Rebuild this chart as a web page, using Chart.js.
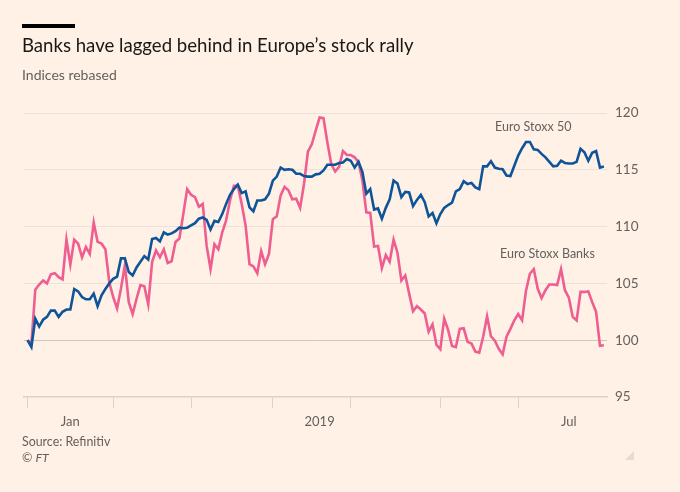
<!DOCTYPE html>
<html><head><meta charset="utf-8">
<script src="https://cdn.jsdelivr.net/npm/chart.js@4/dist/chart.umd.js"></script>
<style>
html,body{margin:0;padding:0;background:#fff1e5;}
#w{position:relative;width:680px;height:492px;overflow:hidden;background:#fff1e5;font-family:Lato,sans-serif;}
canvas{position:absolute;left:0;top:0;}
.t{position:absolute;white-space:nowrap;color:#66605c;}
#bar{position:absolute;left:22px;top:24px;width:53px;height:4px;background:#000;}
#tri{position:absolute;left:625px;top:451px;width:0;height:0;border-left:9px solid transparent;border-bottom:9px solid #e6dcd2;}
</style></head><body>
<div id="w">
<canvas id="c" width="680" height="492"></canvas>
<div id="bar"></div>
<div class="t" style="left:22px;top:34px;font-size:18.6px;color:#1a1714;">Banks have lagged behind in Europe’s stock rally</div>
<div class="t" style="left:22px;top:66px;font-size:14px;">Indices rebased</div>
<div class="t" style="left:495px;top:119px;font-size:12.5px;">Euro Stoxx 50</div>
<div class="t" style="left:500px;top:246px;font-size:12.5px;">Euro Stoxx Banks</div>
<div class="t" style="left:22px;top:434px;font-size:12.4px;">Source: Refinitiv</div>
<div class="t" style="left:22px;top:450px;font-size:12.4px;">© <i>FT</i></div>
<div id="tri"></div>
</div>
<script>
const stoxx50=[100,99.4,101.9,101.2,101.8,102.05,102.6,102.6,102.05,102.5,102.7,102.7,104.5,104.3,103.8,103.6,103.6,104.1,103,103.95,104.5,105,105.4,105.6,107.2,107.2,106,105.7,106.4,106.9,107.4,107.1,108.9,109,108.7,109.5,109.3,109.4,109.6,109.9,109.85,109.9,110.1,110.3,110.7,110.8,110.6,109.75,110.5,110.4,111.1,112,112.8,113.3,113.7,112.95,113.1,111.7,111.35,112.3,112.3,112.4,112.9,114.05,114.4,115.2,115,115.05,115,114.65,114.65,114.45,114.4,114.4,114.6,114.65,114.95,115.45,115.45,115.45,115.6,115.65,115.95,115.8,115.2,115.7,114.8,112.9,113.3,111.5,111.6,110.7,111.65,112.4,114.05,113.8,112.6,113.05,113,111.8,112.35,112.8,112.15,110.9,111.2,110.3,111.1,111.65,111.9,112.1,113.1,113.3,114,113.75,113.85,113.45,113.3,115.3,115.3,115.75,115.2,115.1,115.05,114.5,114.45,115.35,116.25,116.9,117.45,117.45,116.8,116.75,116.4,116.1,115.7,115.3,115.35,115.8,115.6,115.55,115.55,115.7,116.85,116.55,115.8,116.5,116.65,115.2,115.3];
const banks=[100,99.7,104.45,104.9,105.25,105,105.8,105.9,105.55,105.35,108.85,106.65,108.85,108.5,107.3,108.2,107.6,110.35,108.65,108.5,108,105.1,103.8,102.8,104.55,106.6,103.35,102.3,103.65,104.85,104.75,103.15,106.9,107.9,107.3,108,106.8,106.95,108.65,108.95,111.1,113.3,112.8,112.6,111.75,112,108.3,106.25,108.45,108,109.5,110.55,112.3,113.6,113.6,112,110.1,106.7,106.5,105.9,107.85,106.7,107.6,110.65,110.9,112.75,113.5,113.2,112.4,112.45,111.65,113.75,116.6,117.25,118.45,119.6,119.55,117.4,115.5,114.85,115.25,116.65,116.3,116.3,116.1,115.65,114.05,111.25,111.2,108.25,108.3,106.35,107.5,106.9,108.85,107.7,105.25,105.7,104.1,102.55,103,102.7,102.35,100.75,101.4,99.6,99.2,101.9,100.9,99.5,99.4,101,101.05,99.85,99.7,99,98.9,100.3,102.1,100.35,99.95,99.25,98.75,100.3,101,101.75,102.3,101.75,104.35,105.85,106.25,104.55,103.7,104.4,104.9,104.9,104.85,106.25,104.4,103.75,102.05,101.75,104.25,104.25,104.3,103.35,102.5,99.5,99.55];
const days=stoxx50.map((_,i)=>i);
const monthStarts=[0,22,42,63,83,106,126];
const labelDays=[11,75,139];
const labelTexts=["Jan","2019","Jul"];
const yTicks=[95,100,105,110,115,120];
const font='Lato,sans-serif';
new Chart(document.getElementById('c'),{
 type:'line',
 data:{labels:days,datasets:[
  {label:'Euro Stoxx 50',data:days.map(i=>({x:i,y:stoxx50[i]})),borderColor:'#0f5499',borderWidth:2.6,pointRadius:0,tension:0,borderJoinStyle:'miter'},
  {label:'Euro Stoxx Banks',data:days.map(i=>({x:i,y:banks[i]})),borderColor:'#ee5e90',borderWidth:2.6,pointRadius:0,tension:0,borderJoinStyle:'miter'}
 ]},
 options:{
  responsive:false,animation:false,devicePixelRatio:window.devicePixelRatio||1,
  layout:{padding:{top:113,left:24,right:0,bottom:0}},
  plugins:{legend:{display:false},tooltip:{enabled:false},title:{display:false}},
  scales:{
   x:{type:'linear',min:-0.9,max:148.8,
    afterFit:s=>{s.height=95;},
    afterBuildTicks:s=>{s.ticks=monthStarts.concat(labelDays).map(v=>({value:v}));},
    border:{display:true,color:'#d9d2c8',width:1.5},
    grid:{drawOnChartArea:false,drawTicks:true,tickLength:11,tickWidth:1,
      tickColor:c=>monthStarts.includes(c.tick.value)?'#dbd3ca':'rgba(0,0,0,0)'},
    ticks:{autoSkip:false,maxRotation:0,minRotation:0,padding:6,color:'#66605c',font:{family:font,size:13},
      callback:v=>{const k=labelDays.indexOf(v);return k<0?'':labelTexts[k];}}
   },
   y:{position:'right',min:95,max:120,
    afterFit:s=>{s.width=73;},
    afterBuildTicks:s=>{s.ticks=yTicks.map(v=>({value:v}));},
    border:{display:false},
    grid:{drawTicks:false,lineWidth:1,color:c=>c.tick.value===100?'#ccc6bd':(c.tick.value===95?'rgba(0,0,0,0)':'#ebe2d9')},
    ticks:{padding:8,color:'#66605c',font:{family:font,size:13.5}}
   }
  }
 }
});
</script>
</body></html>
